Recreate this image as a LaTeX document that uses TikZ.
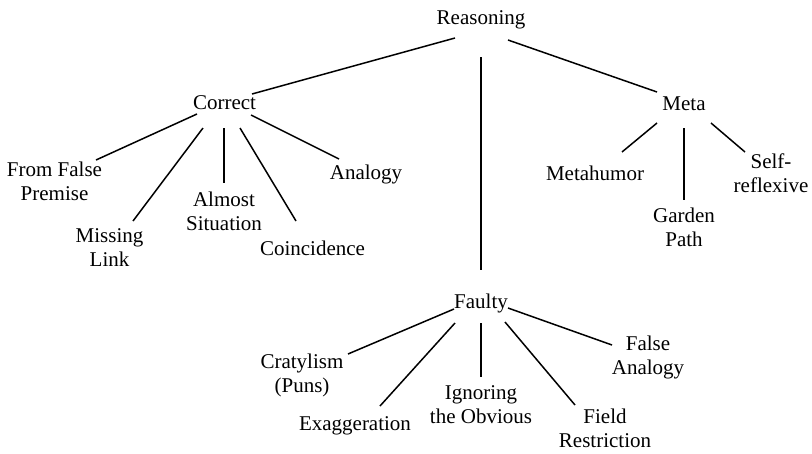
\documentclass[tikz,border=0pt]{standalone}
\usepackage{fontspec}
\setmainfont{Liberation Serif}
\begin{document}
\begin{tikzpicture}[x=1pt,y=-1pt,
  lbl/.style={inner sep=0pt,align=center,font=\fontsize{21}{24}\selectfont},
  edge/.style={line width=1.5pt,line cap=butt}]
\useasboundingbox (0,0) rectangle (812,453);
% nodes
\node[lbl] (R)  at (481,20)    {Reasoning};
\node[lbl] (C)  at (224.5,102.5) {Correct};
\node[lbl] (M)  at (684,104)   {Meta};
\node[lbl] (F)  at (481,303)   {Faulty};
\node[lbl] (FFP) at (54.5,181) {From False\\Premise};
\node[lbl] (ML) at (109.5,248) {Missing\\Link};
\node[lbl] (AS) at (224,211)   {Almost\\Situation};
\node[lbl] (Co) at (312.5,248) {Coincidence};
\node[lbl] (An) at (366,174)   {Analogy};
\node[lbl] (Mh) at (595,173)   {Metahumor};
\node[lbl] (GP) at (684,227)   {Garden\\Path};
\node[lbl] (SR) at (771,173)   {Self-\\reflexive};
\node[lbl] (Cr) at (302,375)   {Cratylism\\(Puns)};
\node[lbl] (Ex) at (355,426)   {Exaggeration};
\node[lbl] (IO) at (481,405)   {Ignoring\\the Obvious};
\node[lbl] (FR) at (605,428)   {Field\\Restriction};
\node[lbl] (FA) at (648,357)   {False\\Analogy};
% edges
\draw[edge] ([shift={(-26,18)}]R.center) -- ([shift={(27.5,-8.5)}]C.center);
\draw[edge] ([shift={(27,20)}]R.center) -- ([shift={(-27,-12)}]M.center);
\draw[edge] ([shift={(0,37)}]R.center) -- ([shift={(0,-33)}]F.center);
\draw[edge] ([shift={(-27.5,11.5)}]C.center) -- ([shift={(41.5,-21)}]FFP.center);
\draw[edge] ([shift={(-21.5,25.5)}]C.center) -- ([shift={(23.5,-27)}]ML.center);
\draw[edge] ([shift={(-0.5,25.5)}]C.center) -- ([shift={(0,-28)}]AS.center);
\draw[edge] ([shift={(15.5,25.5)}]C.center) -- ([shift={(-16.5,-27)}]Co.center);
\draw[edge] ([shift={(26.5,12.5)}]C.center) -- ([shift={(-27,-15)}]An.center);
\draw[edge] ([shift={(-27,19)}]M.center) -- ([shift={(27,-21)}]Mh.center);
\draw[edge] ([shift={(0,24)}]M.center) -- ([shift={(0,-27)}]GP.center);
\draw[edge] ([shift={(27,19)}]M.center) -- ([shift={(-26,-21)}]SR.center);
\draw[edge] ([shift={(-27,6)}]F.center) -- ([shift={(46,-21)}]Cr.center);
\draw[edge] ([shift={(-26,20)}]F.center) -- ([shift={(25,-20)}]Ex.center);
\draw[edge] ([shift={(0,20)}]F.center) -- ([shift={(0,-28)}]IO.center);
\draw[edge] ([shift={(24,19)}]F.center) -- ([shift={(-30,-23)}]FR.center);
\draw[edge] ([shift={(27,5)}]F.center) -- ([shift={(-36,-12)}]FA.center);
\end{tikzpicture}
\end{document}
